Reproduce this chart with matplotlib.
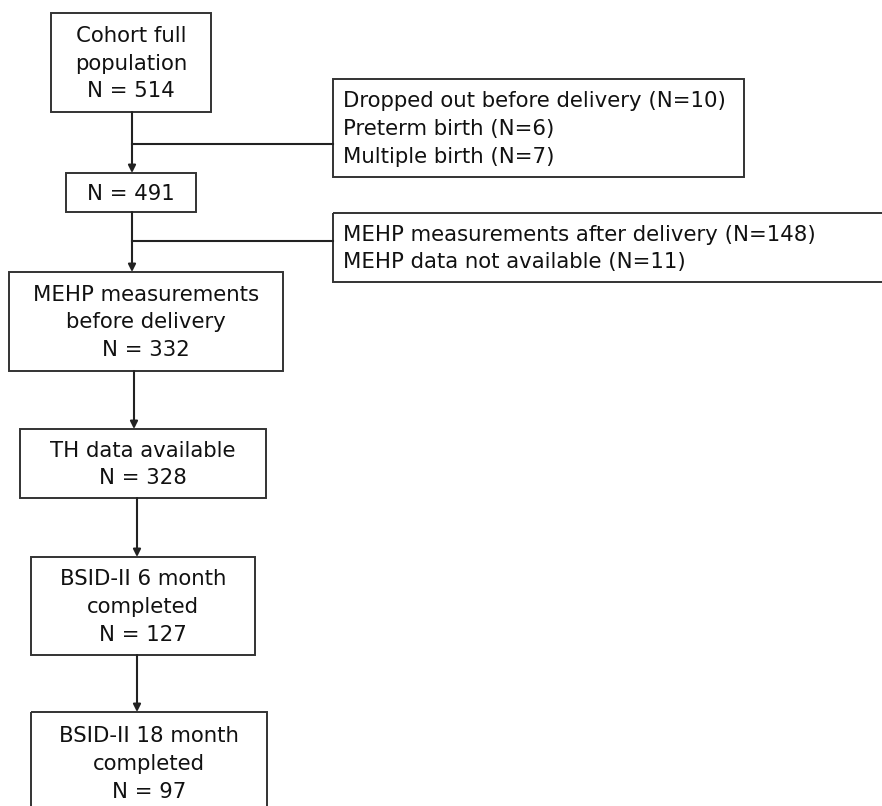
import matplotlib
matplotlib.use("Agg")
import matplotlib.pyplot as plt
from matplotlib.patches import Rectangle

# ---- data ----
main_labels = ["Cohort full\npopulation", "", "MEHP measurements\nbefore delivery",
               "TH data available", "BSID-II 6 month\ncompleted", "BSID-II 18 month\ncompleted"]
main_counts = [514, 491, 332, 328, 127, 97]
excl1_labels = ["Dropped out before delivery", "Preterm birth", "Multiple birth"]
excl1_counts = [10, 6, 7]
excl2_labels = ["MEHP measurements after delivery", "MEHP data not available"]
excl2_counts = [148, 11]

# ---- layout (pixel coordinates) ----
W, H = 882, 806
main_boxes = [  # x0, y0, x1, y1
    (51, 13, 211, 112),
    (66, 173, 196, 212),
    (9, 272, 283, 371),
    (20, 429, 266, 498),
    (31, 557, 255, 655),
    (31, 712, 267, 814),
]
arrow_x = [132, 132, 134, 137, 137]
excl_boxes = [(333, 79, 744, 177), (333, 213, 900, 282)]
branch_y = [144, 241]
FS = 15.3
LS = 1.48
LC = "#222222"

fig = plt.figure(figsize=(W / 100, H / 100), dpi=100)
ax = fig.add_axes([0, 0, 1, 1])
ax.set_xlim(0, W)
ax.set_ylim(H, 0)
ax.axis("off")

def box(x0, y0, x1, y1):
    ax.add_patch(Rectangle((x0, y0), x1 - x0, y1 - y0, fill=False,
                           edgecolor="#333333", linewidth=1.4, clip_on=True))

for (x0, y0, x1, y1), lab, n in zip(main_boxes, main_labels, main_counts):
    box(x0, y0, x1, y1)
    txt = (lab + "\n" if lab else "") + f"N = {n}"
    ax.text((x0 + x1) / 2, (y0 + y1) / 2 + 1, txt, ha="center", va="center",
            fontsize=FS, family="DejaVu Sans", linespacing=LS, color="#111111")

for i, ax_x in enumerate(arrow_x):
    y_start = main_boxes[i][3]
    y_end = main_boxes[i + 1][1]
    ax.annotate("", xy=(ax_x, y_end), xytext=(ax_x, y_start),
                arrowprops=dict(arrowstyle="-|>", color=LC, lw=1.5,
                                mutation_scale=11, shrinkA=0, shrinkB=0))

for (x0, y0, x1, y1), by, labs, cnts, ax_x in zip(
        excl_boxes, branch_y, [excl1_labels, excl2_labels],
        [excl1_counts, excl2_counts], arrow_x[:2]):
    box(x0, y0, x1, y1)
    ax.plot([ax_x, x0], [by, by], color=LC, lw=1.5)
    txt = "\n".join(f"{l} (N={c})" for l, c in zip(labs, cnts))
    ax.text(x0 + 10, (y0 + y1) / 2 + 1, txt, ha="left", va="center",
            fontsize=FS, family="DejaVu Sans", linespacing=LS, color="#111111")

fig.savefig("out.png", dpi=100)
